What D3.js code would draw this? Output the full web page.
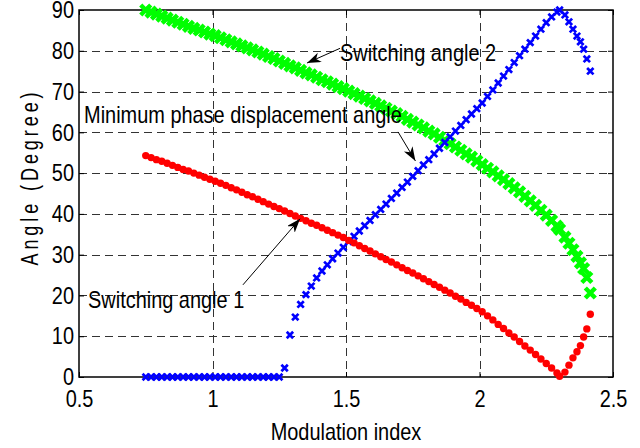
<!DOCTYPE html>
<html>
<head>
<meta charset="utf-8">
<script src="https://cdn.jsdelivr.net/npm/d3@7"></script>
<style>
  body { margin: 0; background: #fff; }
  text { font-family: "Liberation Sans", Arial, sans-serif; fill: #000; }
</style>
</head>
<body>
<div id="root"></div>
<script>
// modulation index (x)
const mi = [0.75,0.77,0.79,0.81,0.83,0.85,0.87,0.89,0.91,0.93,
	0.95,0.97,0.99,1.01,1.03,1.05,1.07,1.09,1.11,1.13,
	1.15,1.17,1.19,1.21,1.23,1.25,1.27,1.29,1.31,1.33,
	1.35,1.37,1.39,1.41,1.43,1.45,1.47,1.49,1.51,1.53,
	1.55,1.57,1.59,1.61,1.63,1.65,1.67,1.69,1.71,1.73,
	1.75,1.77,1.79,1.81,1.83,1.85,1.87,1.89,1.91,1.93,
	1.95,1.97,1.99,2.01,2.03,2.05,2.07,2.09,2.11,2.13,
	2.15,2.17,2.19,2.21,2.23,2.25,2.27,2.29,
	2.30,2.32,2.335,2.35,2.365,2.378,2.39,2.402,2.415]

// switching angle 2 (green)
const angle2 = [90.0,89.5,89.0,88.5,88.0,87.5,87.0,86.5,86.0,85.5,
	85.1,84.6,84.1,83.7,83.2,82.7,82.2,81.7,81.2,80.7,
	80.2,79.7,79.2,78.6,78.1,77.5,76.9,76.3,75.8,75.2,
	74.6,74.1,73.5,72.9,72.4,71.8,71.2,70.7,70.1,69.5,
	68.9,68.3,67.7,67.1,66.5,65.9,65.2,64.6,63.9,63.2,
	62.5,61.8,61.1,60.3,59.6,58.8,58.0,57.2,56.4,55.6,
	54.7,53.9,53.0,52.1,51.2,50.3,49.3,48.4,47.4,46.4,
	45.4,44.3,43.2,42.1,40.9,39.7,38.4,37.0,
	36.2,34.3,32.8,31.2,29.6,28.0,26.6,24.4,20.6]

// switching angle 1 (red)
const angle1 = [54.3,53.8,53.3,52.9,52.4,51.9,51.4,50.9,50.5,50.0,
	49.5,49.0,48.5,48.0,47.5,47.0,46.4,45.9,45.3,44.7,
	44.2,43.6,43.0,42.4,41.8,41.3,40.7,40.1,39.5,38.9,
	38.3,37.7,37.2,36.6,36.0,35.4,34.8,34.2,33.5,32.9,
	32.2,31.5,30.9,30.2,29.5,28.8,28.2,27.5,26.8,26.1,
	25.5,24.8,24.1,23.4,22.7,22.0,21.3,20.6,19.8,19.1,
	18.3,17.6,16.8,16.0,15.0,14.0,12.9,11.9,10.8,9.8,
	8.7,7.6,6.6,5.5,4.4,3.3,2.2,1.0,
	0.2,1.2,2.9,4.7,6.2,7.7,9.8,11.8,15.4]

// minimum phase displacement angle (blue)
const minPhase = [0,0,0,0,0,0,0,0,0,0,
	0,0,0,0,0,0,0,0,0,0,
	0,0,0,0,0,0,2.2,10.3,14.7,17.8,
	20.2,22.3,24.3,26.0,27.5,29.0,30.4,31.8,33.2,34.5,
	35.8,37.1,38.4,39.8,41.1,42.4,43.8,45.1,46.5,47.8,
	49.2,50.6,52.0,53.3,54.7,56.1,57.5,58.9,60.3,61.7,
	63.1,64.5,65.8,67.2,68.8,70.4,72.1,73.8,75.4,77.1,
	78.8,80.4,82.0,83.6,85.3,86.9,88.3,89.5,
	90.0,88.8,87.1,85.3,83.6,82.2,80.4,78.0,75.0]

const xTicks = [0.5, 1, 1.5, 2, 2.5]
const yTicks = [0, 10, 20, 30, 40, 50, 60, 70, 80, 90]

const width = 640, height = 448
const margin = {top: 10, right: 27, bottom: 71, left: 79}

const svg = d3.select('#root').append('svg')
	.attr('width', width)
	.attr('height', height)

const x = d3.scaleLinear().domain([0.5, 2.5]).range([margin.left, width - margin.right])
const y = d3.scaleLinear().domain([0, 90]).range([height - margin.bottom, margin.top])

// grid
const grid = svg.append('g')
grid.selectAll('.gx')
	.data(xTicks.slice(1, -1))
	.enter().append('line')
	.attr('x1', d => Math.round(x(d)) + 0.5).attr('x2', d => Math.round(x(d)) + 0.5)
	.attr('y1', y(90)).attr('y2', y(0))
	.attr('stroke', '#333').attr('stroke-dasharray', '8,5')
grid.selectAll('.gy')
	.data(yTicks.slice(1, -1))
	.enter().append('line')
	.attr('y1', d => Math.round(y(d)) + 0.5).attr('y2', d => Math.round(y(d)) + 0.5)
	.attr('x1', x(0.5)).attr('x2', x(2.5))
	.attr('stroke', '#333').attr('stroke-dasharray', '8,5')

// axes, ticks inward
const xAxis = svg.append('g')
	.attr('transform', `translate(0,${y(0)})`)
	.call(d3.axisBottom(x).tickValues(xTicks).tickSize(-5).tickPadding(13).tickFormat(d3.format('')))
const yAxis = svg.append('g')
	.attr('transform', `translate(${x(0.5)},0)`)
	.call(d3.axisLeft(y).tickValues(yTicks).tickSize(-5).tickPadding(5))
svg.append('g')
	.attr('transform', `translate(0,${y(90)})`)
	.call(d3.axisTop(x).tickValues(xTicks).tickSize(-5).tickFormat(''))
svg.append('g')
	.attr('transform', `translate(${x(2.5)},0)`)
	.call(d3.axisRight(y).tickValues(yTicks).tickSize(-5).tickFormat(''))

svg.selectAll('.domain').remove()
svg.selectAll('.tick line').attr('stroke', '#000')
xAxis.selectAll('text').style('font-size', '24px').attr('font-family', null)
yAxis.selectAll('text').style('font-size', '24px').attr('font-family', null)

svg.append('rect')
	.attr('x', x(0.5)).attr('y', y(90))
	.attr('width', x(2.5) - x(0.5)).attr('height', y(0) - y(90))
	.attr('fill', 'none').attr('stroke', '#000').attr('stroke-width', 1.5)

// series
const idx = d3.range(mi.length)

const cross = (sel, s) => sel.attr('d', `M${-s},${-s}L${s},${s}M${-s},${s}L${s},${-s}`)

svg.append('g').selectAll('path')
	.data(idx).enter().append('path')
	.attr('transform', i => `translate(${x(mi[i])},${y(angle2[i])})`)
	.call(cross, 5)
	.attr('stroke', '#00ff00').attr('stroke-width', 4.5).attr('fill', 'none')

svg.append('g').selectAll('path')
	.data(idx).enter().append('path')
	.attr('transform', i => `translate(${x(mi[i])},${y(minPhase[i])})`)
	.call(cross, 3.2)
	.attr('stroke', '#0000ff').attr('stroke-width', 2.7).attr('fill', 'none')

svg.append('g').selectAll('circle')
	.data(idx).enter().append('circle')
	.attr('cx', i => x(mi[i]))
	.attr('cy', i => y(angle1[i]))
	.attr('r', 3.7)
	.attr('fill', '#ff0000')

// annotations
svg.append('defs').append('marker')
	.attr('id', 'head')
	.attr('markerUnits', 'userSpaceOnUse')
	.attr('markerWidth', 16).attr('markerHeight', 12)
	.attr('refX', 14).attr('refY', 5)
	.attr('orient', 'auto')
	.append('path')
	.attr('d', 'M0,0L14,5L0,10L4,5Z')
	.attr('fill', '#000')

const notes = [
	{text: 'Switching angle 2', tx: 1.4775, ty: 77.4, ax: 1.4775, ay: 80.6, bx: 1.354, by: 77.0},
	{text: 'Minimum phase displacement angle', tx: 0.519, ty: 62.4, ax: 1.695, ay: 60.1, bx: 1.76, by: 53.0},
	{text: 'Switching angle 1', tx: 0.534, ty: 16.8, ax: 1.114, ay: 22.6, bx: 1.328, by: 38.8}
]

svg.append('g').selectAll('line')
	.data(notes).enter().append('line')
	.attr('x1', d => x(d.ax)).attr('y1', d => y(d.ay))
	.attr('x2', d => x(d.bx)).attr('y2', d => y(d.by))
	.attr('stroke', '#000').attr('stroke-width', 1)
	.attr('marker-end', 'url(#head)')

svg.append('g').selectAll('text')
	.data(notes).enter().append('text')
	.attr('x', d => x(d.tx)).attr('y', d => y(d.ty))
	.text(d => d.text)
	.style('font-size', '24px')

// axis titles
svg.append('text')
	.attr('x', (x(0.5) + x(2.5)) / 2).attr('y', 440)
	.attr('text-anchor', 'middle')
	.style('font-size', '24px')
	.text('Modulation index')

// the reference uses a narrow face: squeeze every label
svg.selectAll('text').each(function() {
	const w = this.getComputedTextLength()
	if (w > 0) d3.select(this).attr('textLength', w * 0.83).attr('lengthAdjust', 'spacingAndGlyphs')
})

svg.append('text')
	.attr('transform', 'translate(38,177) rotate(-90)')
	.attr('text-anchor', 'middle')
	.style('font-size', '23px')
	.style('letter-spacing', '5px')
	.attr('textLength', 177)
	.attr('lengthAdjust', 'spacingAndGlyphs')
	.text('Angle (Degree)')
</script>
</body>
</html>
